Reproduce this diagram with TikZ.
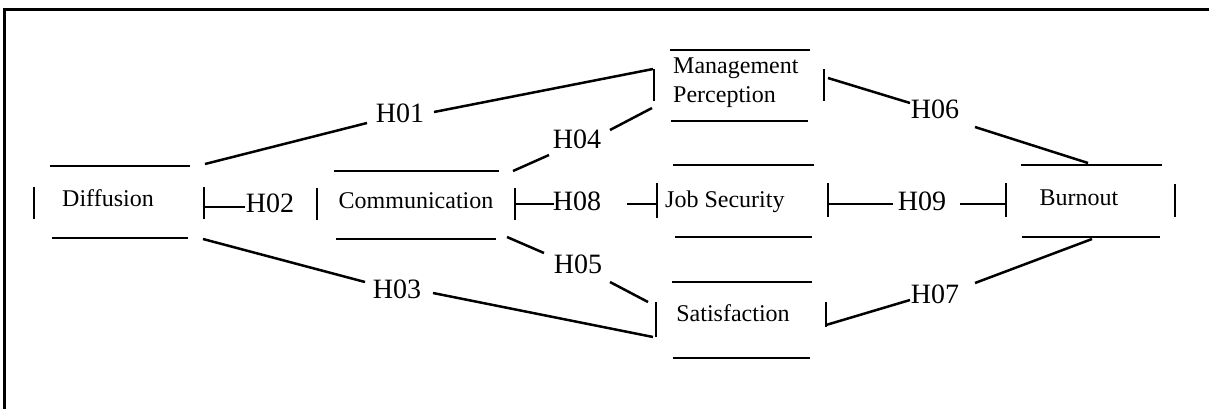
\documentclass[tikz,border=0pt]{standalone}
\usepackage{fontspec}
\setmainfont{Liberation Serif}
\begin{document}
\begin{tikzpicture}[x=1pt,y=-1pt,
  bar/.style={line width=2.5pt},
  frame/.style={line width=3pt},
  lbl/.style={font=\fontsize{28}{30}\selectfont, inner sep=0pt, anchor=base},
  txt/.style={font=\fontsize{24}{26}\selectfont, inner sep=0pt, anchor=base}]
\useasboundingbox (0,0) rectangle (1209,408);
\draw[frame] (4.5,420) -- (4.5,9.5) -- (1220,9.5);

% ---- boxes (open brackets) ----
% Diffusion
\draw[bar] (50,166) -- (190,166);
\draw[bar] (52,238) -- (188,238);
\draw[bar] (34,187) -- (34,219);
\draw[bar] (204,187) -- (204,219);
\node[txt] (diff) at (108,206) {Diffusion};
% Communication
\draw[bar] (334,171) -- (499,171);
\draw[bar] (336,239) -- (496,239);
\draw[bar] (317,188) -- (317,220);
\draw[bar] (515,188) -- (515,220);
\node[txt] (comm) at (416,208) {Communication};
% Management Perception
\draw[bar] (670,50) -- (810,50);
\draw[bar] (671,121) -- (808,121);
\draw[bar] (654,69) -- (654,101);
\draw[bar] (824,69) -- (824,101);
\node[txt,anchor=base west] (mgmt) at (673,73) {Management};
\node[txt,anchor=base west] (perc) at (673,102) {Perception};
% Job Security
\draw[bar] (673,165) -- (814,165);
\draw[bar] (675,237) -- (812,237);
\draw[bar] (657,183) -- (657,218);
\draw[bar] (828,183) -- (828,217);
\node[txt,anchor=base west] (job) at (665,207) {Job Security};
% Satisfaction
\draw[bar] (672,282) -- (812,282);
\draw[bar] (673,358) -- (810,358);
\draw[bar] (656,302) -- (656,337);
\draw[bar] (826,302) -- (826,327);
\node[txt] (sat) at (733,321) {Satisfaction};
% Burnout
\draw[bar] (1021,165) -- (1162,165);
\draw[bar] (1022,237) -- (1160,237);
\draw[bar] (1006,183) -- (1006,217);
\draw[bar] (1175,184) -- (1175,217);
\node[txt] (burn) at (1079,205) {Burnout};

% ---- labels ----
\node[lbl] (h01) at (400,122) {H01};
\node[lbl] (h02) at (270,212) {H02};
\node[lbl] (h03) at (397,298) {H03};
\node[lbl] (h04) at (577,148) {H04};
\node[lbl] (h05) at (578,273) {H05};
\node[lbl] (h06) at (935,118) {H06};
\node[lbl] (h07) at (935,303) {H07};
\node[lbl] (h08) at (577,210) {H08};
\node[lbl] (h09) at (922,210) {H09};

% ---- connector end points ----
\coordinate (a1) at (205,164);  \coordinate (a2) at (367,123);
\coordinate (a3) at (434,112);  \coordinate (a4) at (653,69);
\coordinate (b1) at (513,171);  \coordinate (b2) at (549,155);
\coordinate (b3) at (610,130);  \coordinate (b4) at (652,108);
\coordinate (c1) at (204,207);  \coordinate (c2) at (245,207);
\coordinate (d1) at (515,204);  \coordinate (d2) at (554,204);
\coordinate (d3) at (627,204);  \coordinate (d4) at (657,204);
\coordinate (e1) at (828,204);  \coordinate (e2) at (893,204);
\coordinate (e3) at (960,204);  \coordinate (e4) at (1006,204);
\coordinate (f1) at (203,239);  \coordinate (f2) at (365,282);
\coordinate (f3) at (433,293);  \coordinate (f4) at (653,337);
\coordinate (g1) at (507,237);  \coordinate (g2) at (544,253);
\coordinate (g3) at (610,282);  \coordinate (g4) at (648,302);
\coordinate (k1) at (828,78);   \coordinate (k2) at (910,103);
\coordinate (k3) at (975,127);  \coordinate (k4) at (1088,163);
\coordinate (m1) at (826,325);  \coordinate (m2) at (910,300);
\coordinate (m3) at (975,283);  \coordinate (m4) at (1092,239);

\draw[bar] (a1) -- (a2); \draw[bar] (a3) -- (a4);
\draw[bar] (b1) -- (b2); \draw[bar] (b3) -- (b4);
\draw[bar] (c1) -- (c2);
\draw[bar] (d1) -- (d2); \draw[bar] (d3) -- (d4);
\draw[bar] (e1) -- (e2); \draw[bar] (e3) -- (e4);
\draw[bar] (f1) -- (f2); \draw[bar] (f3) -- (f4);
\draw[bar] (g1) -- (g2); \draw[bar] (g3) -- (g4);
\draw[bar] (k1) -- (k2); \draw[bar] (k3) -- (k4);
\draw[bar] (m1) -- (m2); \draw[bar] (m3) -- (m4);
\end{tikzpicture}
\end{document}
